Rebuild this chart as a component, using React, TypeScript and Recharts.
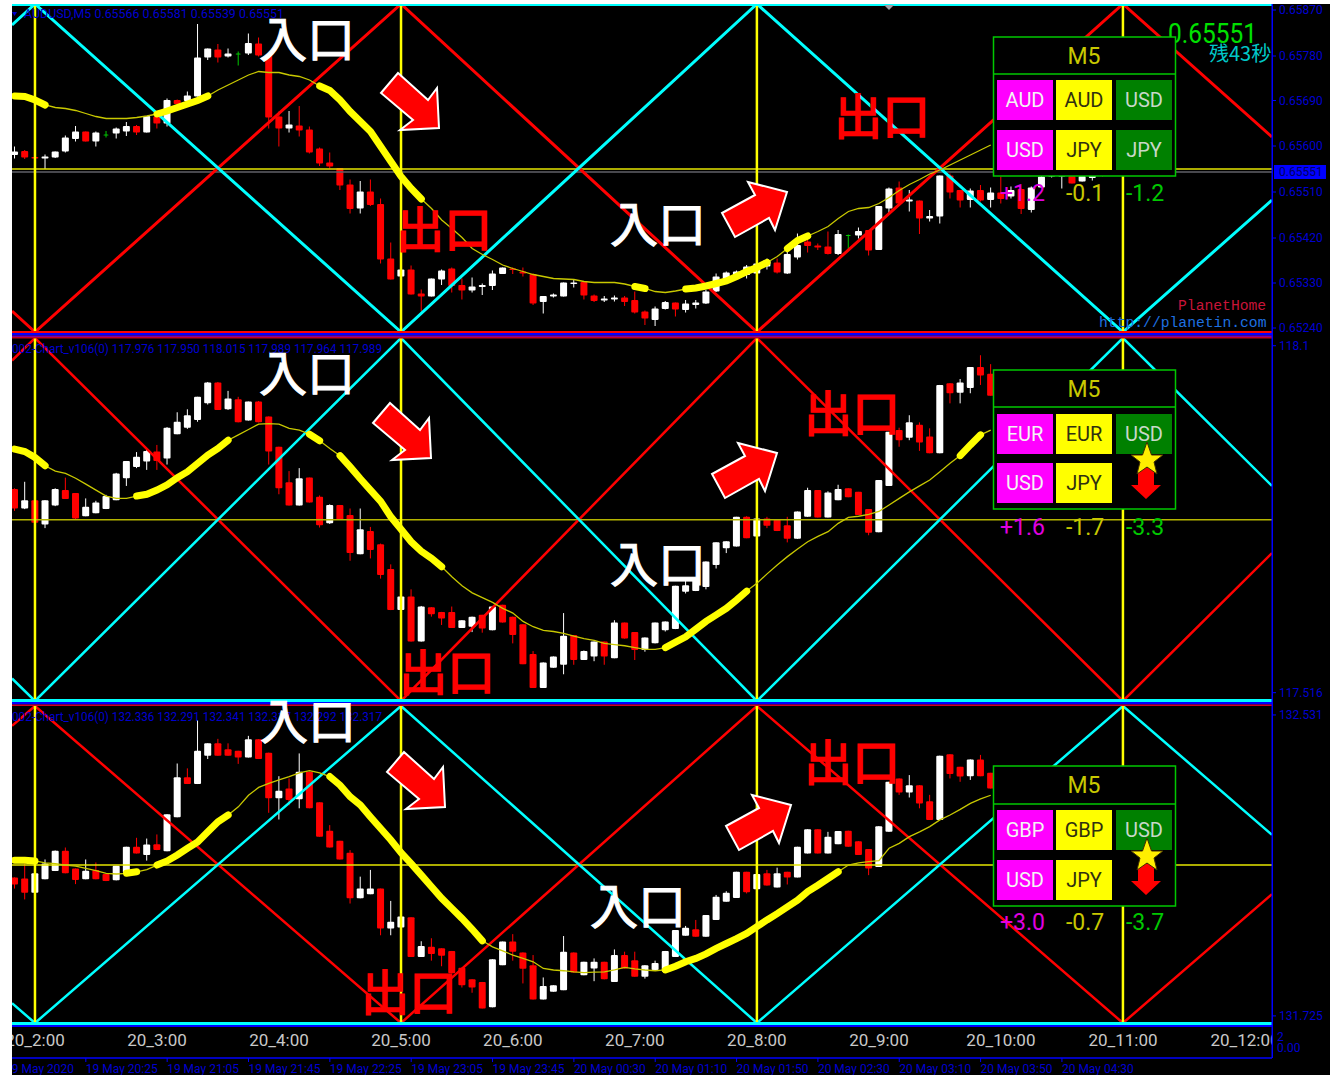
import { ComposedChart, Bar, Line, XAxis, YAxis, ReferenceLine } from "recharts";

// audusd m5, prices in points (1e-5), first bar is two bars before 20_2:00
const p1Open = [65581,65589,65577,65574,65576,65588,65613,65628,65608,65622,65624,65628,65639,65626,65658,65644,65691,65689,65698,65776,65792,65778,65784,65784,65804,65781,65658,65634,65640,65632,65594,65566,65555,65522,65474,65508,65483,65374,65338,65352,65304,65298,65332,65354,65321,65310,65317,65319,65343,65354,65348,65343,65287,65298,65298,65323,65327,65300,65290,65292,65296,65291,65268,65251,65273,65286,65271,65281,65284,65308,65332,65334,65341,65344,65358,65366,65344,65376,65408,65400,65398,65383,65421,65420,65431,65391,65474,65516,65488,65490,65454,65458,65540,65511,65491,65511,65491,65506,65498,65513,65471,65516,65538,65538,65539,65528,65535,65566];
const p1Close = [65588,65576,65574,65578,65588,65616,65628,65608,65626,65622,65634,65639,65626,65659,65644,65691,65683,65700,65776,65794,65776,65784,65784,65805,65780,65656,65634,65642,65630,65586,65564,65558,65520,65473,65508,65481,65372,65332,65352,65302,65298,65334,65350,65319,65310,65318,65321,65344,65356,65351,65344,65284,65299,65302,65326,65326,65300,65289,65294,65296,65287,65266,65254,65274,65287,65272,65284,65286,65308,65338,65346,65348,65358,65364,65371,65346,65383,65401,65399,65396,65383,65423,65421,65429,65390,65479,65514,65484,65492,65454,65459,65540,65506,65490,65510,65490,65506,65493,65511,65473,65516,65538,65558,65555,65524,65539,65545,65551];
const p1High = [65598,65591,65577,65582,65588,65620,65639,65628,65628,65629,65636,65647,65641,65659,65663,65694,65692,65708,65843,65794,65803,65794,65788,65824,65816,65781,65668,65669,65679,65638,65596,65586,65555,65532,65529,65532,65494,65406,65352,65360,65312,65334,65352,65356,65334,65336,65324,65350,65356,65356,65356,65344,65299,65304,65326,65331,65328,65302,65299,65300,65299,65308,65270,65278,65289,65286,65291,65291,65311,65344,65348,65350,65361,65368,65374,65374,65391,65424,65414,65404,65428,65431,65422,65436,65431,65479,65516,65528,65511,65490,65471,65540,65544,65511,65514,65521,65516,65538,65518,65514,65518,65540,65560,65560,65545,65548,65552,65581];
const p1Low = [65574,65573,65574,65553,65575,65586,65608,65608,65598,65616,65614,65619,65621,65626,65634,65638,65683,65688,65698,65771,65766,65776,65760,65781,65778,65634,65598,65626,65618,65584,65559,65554,65511,65464,65464,65479,65364,65332,65311,65302,65268,65298,65321,65306,65292,65306,65301,65311,65343,65343,65338,65281,65264,65296,65298,65316,65292,65287,65287,65288,65279,65264,65241,65239,65272,65258,65266,65274,65283,65307,65332,65334,65334,65342,65352,65344,65343,65372,65386,65391,65382,65381,65391,65414,65380,65391,65464,65483,65468,65423,65448,65444,65494,65476,65476,65488,65476,65484,65494,65463,65466,65516,65536,65514,65524,65528,65530,65538];
const p1Ma = [65699,65698,65691,65681,65676,65674,65670,65664,65658,65654,65654,65654,65656,65659,65663,65669,65676,65683,65690,65699,65711,65721,65731,65741,65748,65746,65746,65741,65738,65731,65719,65710,65691,65668,65648,65628,65598,65568,65538,65514,65493,65474,65451,65434,65416,65394,65382,65372,65361,65354,65348,65342,65338,65334,65333,65332,65328,65326,65326,65326,65323,65318,65314,65308,65306,65309,65313,65315,65319,65324,65329,65338,65348,65356,65366,65378,65394,65410,65419,65428,65438,65454,65468,65474,65476,65484,65496,65510,65522,65532,65543,65551,65561,65571,65581,65591,65601];
const p1ThickRuns = [[-2,1],[12,17],[28,38],[59,60],[64,72],[74,76]];
const p1TickValues = [65871,65779,65690,65599,65507,65415,65325,65235];
const p1TickLabels = ["0.65870","0.65780","0.65690","0.65600","0.65510","0.65420","0.65330","0.65240"];

// eurjpy-style middle panel, prices in 0.001
const p2Open = [117859,117826,117840,117799,117831,117857,117852,117813,117818,117825,117840,117877,117896,117905,117922,117910,117951,117962,117975,118003,118038,117993,118010,117974,118006,117981,117930,117870,117831,117878,117846,117801,117832,117815,117749,117788,117766,117724,117655,117678,117602,117660,117652,117652,117625,117627,117647,117621,117664,117644,117631,117581,117524,117558,117563,117613,117571,117577,117602,117574,117634,117618,117588,117599,117621,117623,117686,117687,117694,117731,117759,117762,117812,117779,117809,117807,117798,117775,117812,117857,117811,117840,117860,117854,117825,117786,117864,117958,117945,117967,117947,117919,118037,118021,118029,118064,118053];
const p2Close = [117826,117840,117802,117840,117859,117842,117809,117829,117836,117847,117885,117906,117913,117923,117906,117962,117972,117983,118014,118038,117992,118011,117971,118006,117971,117922,117860,117831,117877,117836,117798,117832,117807,117751,117791,117756,117714,117655,117678,117602,117661,117648,117641,117625,117638,117644,117624,117661,117634,117613,117564,117524,117567,117577,117612,117571,117586,117602,117577,117634,117607,117588,117609,117634,117636,117696,117697,117706,117737,117769,117771,117812,117776,117809,117797,117788,117775,117821,117857,117811,117853,117859,117845,117815,117785,117874,117955,117941,117971,117937,117919,118034,118020,118038,118064,118050,118016];
const p2High = [117860,117871,117861,117840,117860,117878,117852,117843,117839,117849,117886,117906,117921,117927,117933,117963,117988,117993,118014,118039,118039,118024,118014,118006,118007,117981,117930,117889,117894,117878,117848,117833,117832,117826,117826,117795,117767,117732,117678,117690,117662,117660,117652,117661,117638,117644,117647,117662,117664,117644,117631,117586,117567,117577,117650,117613,117587,117602,117602,117638,117634,117618,117609,117634,117636,117696,117706,117706,117737,117769,117771,117812,117813,117809,117812,117807,117812,117821,117861,117857,117855,117866,117860,117854,117825,117874,117955,117962,117983,117971,117961,118034,118037,118044,118064,118084,118069];
const p2Low = [117822,117825,117801,117793,117830,117842,117808,117813,117818,117825,117840,117864,117894,117891,117891,117900,117951,117960,117972,118001,117992,117992,117971,117974,117971,117900,117850,117831,117831,117836,117794,117800,117807,117738,117749,117742,117708,117655,117630,117602,117602,117644,117630,117625,117625,117618,117617,117621,117634,117599,117564,117524,117524,117558,117547,117563,117571,117569,117563,117574,117607,117571,117585,117599,117619,117623,117683,117687,117690,117725,117751,117762,117776,117737,117793,117788,117769,117775,117812,117811,117811,117840,117845,117815,117781,117786,117864,117930,117941,117923,117919,117919,118003,118003,118020,118034,118016];
const p2Ma = [117926,117922,117912,117898,117889,117885,117877,117867,117857,117847,117843,117843,117847,117850,117857,117866,117878,117888,117902,117916,117927,117941,117950,117959,117968,117969,117968,117961,117958,117951,117940,117927,117915,117896,117876,117857,117838,117812,117791,117770,117754,117742,117728,117711,117696,117684,117676,117668,117658,117650,117636,117627,117621,117619,117616,117611,117607,117604,117599,117597,117595,117592,117589,117589,117592,117601,117610,117623,117636,117647,117658,117672,117687,117700,117716,117731,117745,117758,117770,117779,117787,117801,117811,117813,117816,117821,117832,117843,117854,117864,117874,117888,117902,117915,117933,117950,117958];
const p2ThickRuns = [[-2,1],[10,19],[27,28],[30,40],[62,70],[91,93]];
const p2TickValues = [118100,117516];
const p2TickLabels = ["118.1","117.516"];

// lower panel, prices in 0.001
const p3Open = [132096,132093,132055,132091,132113,132167,132120,132091,132116,132105,132088,132108,132178,132156,132185,132166,132257,132364,132346,132422,132455,132439,132435,132417,132466,132430,132308,132334,132305,132379,132297,132221,132194,132162,132040,132051,132066,131959,131962,131989,131883,131910,131906,131899,131854,131823,131816,131748,131861,131924,131895,131861,131769,131790,131794,131895,131834,131852,131870,131816,131888,131874,131830,131848,131843,131883,131940,131957,131937,131982,132031,132041,132111,132064,132107,132069,132111,132096,132160,132225,132160,132185,132221,132193,132172,132124,132218,132361,132323,132343,132300,132250,132426,132392,132367,132412,132376];
const p3Close = [132077,132055,132107,132133,132167,132107,132089,132114,132091,132086,132127,132178,132160,132184,132169,132265,132364,132346,132435,132455,132422,132422,132417,132466,132413,132308,132328,132303,132379,132281,132205,132176,132144,132040,132066,132066,131959,131977,131991,131883,131912,131891,131886,131839,131807,131801,131745,131877,131924,131897,131851,131769,131805,131807,131897,131841,131870,131870,131823,131888,131852,131830,131861,131867,131899,131955,131961,131937,131995,132044,132055,132111,132056,132105,132074,132107,132096,132178,132225,132160,132205,132220,132178,132156,132120,132233,132352,132323,132343,132294,132250,132422,132373,132366,132412,132367,132334];
const p3High = [132096,132133,132133,132144,132168,132176,132120,132144,132136,132105,132127,132178,132202,132200,132211,132265,132401,132388,132517,132455,132467,132455,132435,132475,132466,132430,132367,132361,132428,132379,132297,132236,132194,132169,132098,132116,132066,132033,132013,131989,131925,131933,131906,131899,131854,131823,131816,131877,131924,131944,131895,131888,131828,131807,131939,131895,131870,131879,131870,131903,131897,131897,131861,131873,131899,131955,131966,131982,131995,132049,132059,132111,132111,132105,132116,132122,132111,132178,132225,132225,132218,132220,132221,132193,132172,132233,132352,132361,132370,132343,132317,132422,132426,132392,132412,132424,132376];
const p3Low = [132066,132037,132055,132091,132113,132107,132078,132091,132091,132086,132088,132108,132160,132141,132169,132166,132257,132346,132346,132413,132422,132422,132400,132417,132413,132269,132251,132289,132281,132281,132205,132176,132144,132026,132040,132051,131941,131941,131962,131883,131883,131873,131858,131839,131801,131787,131745,131748,131861,131873,131812,131769,131769,131790,131794,131841,131834,131818,131823,131816,131852,131830,131825,131848,131843,131883,131940,131937,131937,131982,132031,132041,132053,132044,132074,132069,132077,132096,132160,132160,132160,132185,132178,132156,132102,132124,132218,132317,132310,132281,132250,132250,132361,132352,132357,132367,132334];
const p3Ma = [132142,132142,132140,132135,132133,132129,132126,132120,132114,132107,132105,132107,132111,132117,132129,132140,132156,132174,132191,132218,132245,132263,132285,132316,132337,132348,132357,132366,132376,132382,132376,132366,132343,132312,132290,132258,132227,132196,132162,132133,132102,132071,132040,132013,131986,131957,131926,131910,131899,131888,131879,131870,131852,131848,131846,131843,131841,131842,131843,131848,131855,131851,131848,131846,131848,131858,131870,131879,131891,131906,131919,131932,131946,131964,131982,131999,132017,132035,132058,132075,132093,132111,132129,132135,132138,132141,132174,132187,132205,132218,132232,132250,132263,132278,132294,132306,132316];
const p3ThickRuns = [[-2,0],[9,10],[12,19],[29,44],[62,79]];
const p3TickValues = [132531,131725];
const p3TickLabels = ["132.531","131.725"];

// gann-style zigzags, corners at bar positions
const diagBars = [-2.26, 0, 36, 71, 107, 121.66];
const p1Red = [65269,65227,65883,65227,65883,65617];
const p1Cyan = [65841,65883,65227,65883,65227,65491];
const p2Red = [118075,118113,117502,118113,117502,117751];
const p2Cyan = [117540,117502,118113,117502,118113,117864];
const p3Red = [132502,132555,131706,132555,131706,132051];
const p3Cyan = [131759,131706,132555,131706,132555,132210];

const vLines = [0, 36, 71, 107];
const hourTicks = [0, 12, 24, 36, 47, 59, 71, 83, 95, 107, 119];
const hourLabels = ["20_2:00","20_3:00","20_4:00","20_5:00","20_6:00","20_7:00","20_8:00","20_9:00","20_10:00","20_11:00","20_12:00"];
const timeTicks = [5, 13, 21, 29, 37, 45, 53, 61, 69, 77, 85, 93, 101];
const timeLabels = ["19 May 20:25","19 May 21:05","19 May 21:45","19 May 22:25","19 May 23:05","19 May 23:45","20 May 00:30","20 May 01:10","20 May 01:50","20 May 02:30","20 May 03:10","20 May 03:50","20 May 04:30"];

const BLUE = "#0000d0";
const X_DOMAIN: [number, number] = [-2.26, 121.66];

function makeRows(open: number[], high: number[], low: number[], close: number[], ma: number[], runs: number[][]) {
  return open.map((o, k) => {
    const bar = k - 2;
    const inRun = runs.some(([a, b]) => bar >= a && bar <= b);
    return {
      bar,
      open: o,
      high: high[k],
      low: low[k],
      close: close[k],
      range: [low[k], high[k]],
      ma: ma[k] ?? null,
      thick: inRun ? ma[k] : null,
    };
  });
}

function diagRows(values: number[]) {
  return diagBars.map((bar, k) => ({ bar, price: values[k] }));
}

function Candle(props: any) {
  const { x, y, width, height, payload } = props;
  const top = Math.min(y, y + height);
  const h = Math.abs(height);
  const perUnit = h / (payload.high - payload.low);
  const toY = (v: number) => top + (payload.high - v) * perUnit;
  const color = payload.close === payload.open ? "#00c800" : payload.close > payload.open ? "#ffffff" : "#ff0000";
  const cx = x + width / 2;
  const yo = toY(payload.open);
  const yc = toY(payload.close);
  const bodyTop = Math.min(yo, yc);
  const bodyH = Math.max(Math.abs(yo - yc), 1);
  const w = payload.close === payload.open ? 5 : 7;
  return (
    <g>
      <rect x={cx - 0.5} y={top} width={1} height={h} fill={color} />
      <rect x={cx - w / 2} y={bodyTop} width={w} height={bodyH} rx={1} fill={color} />
    </g>
  );
}

function TimeTick(props: any) {
  const { x, y, payload } = props;
  const k = timeTicks.indexOf(payload.value);
  return (
    <text x={x} y={y + 9} fontSize={12} fill={BLUE} fontFamily="Roboto">
      {timeLabels[k]}
    </text>
  );
}

interface PanelProps {
  top: number;
  height: number;
  rows: any[];
  domain: [number, number];
  ticks: number[];
  labels: string[];
  red: number[];
  cyan: number[];
  levels: { value: number; color: string }[];
  diagWidth: number;
  bottomAxes?: boolean;
}

function PricePanel({ top, height, rows, domain, ticks, labels, red, cyan, levels, diagWidth, bottomAxes }: PanelProps) {
  return (
    <div style={{ position: "absolute", left: 12, top }}>
      <ComposedChart width={1318} height={height} data={rows} margin={{ top: 0, right: 0, bottom: 0, left: 0 }}>
        {bottomAxes ? (
          <XAxis
            dataKey="bar"
            type="number"
            domain={X_DOMAIN}
            allowDataOverflow
            ticks={hourTicks}
            interval={0}
            height={35}
            tickFormatter={(v) => hourLabels[hourTicks.indexOf(v)]}
            axisLine={false}
            tickLine={false}
            tickSize={0}
            tickMargin={11}
            tick={{ fill: "#c8c8c8", fontSize: 17, fontFamily: "Roboto" }}
          />
        ) : (
          <XAxis dataKey="bar" type="number" domain={X_DOMAIN} allowDataOverflow hide />
        )}
        {bottomAxes && (
          <XAxis
            xAxisId="time"
            dataKey="bar"
            type="number"
            domain={X_DOMAIN}
            allowDataOverflow
            ticks={timeTicks}
            interval={0}
            height={17}
            axisLine={{ stroke: "#0000ff", strokeWidth: 1.5 }}
            tickLine={{ stroke: "#0000ff" }}
            tickSize={4}
            tick={<TimeTick />}
          />
        )}
        <YAxis
          orientation="right"
          type="number"
          width={58}
          domain={domain}
          allowDataOverflow
          ticks={ticks}
          interval={0}
          tickFormatter={(v) => labels[ticks.indexOf(v)]}
          axisLine={false}
          tickLine={{ stroke: "#0000ff" }}
          tickSize={4}
          tickMargin={3}
          tick={{ fill: BLUE, fontSize: 12, fontFamily: "Roboto", textAnchor: "start" }}
        />
        {levels.map((l) => (
          <ReferenceLine key={l.value} y={l.value} stroke={l.color} strokeWidth={1.5} />
        ))}
        <Line data={diagRows(red)} dataKey="price" stroke="#ff0000" strokeWidth={diagWidth} dot={false} activeDot={false} isAnimationActive={false} />
        <Line data={diagRows(cyan)} dataKey="price" stroke="#00ffff" strokeWidth={diagWidth} dot={false} activeDot={false} isAnimationActive={false} />
        {vLines.map((b) => (
          <ReferenceLine key={b} x={b} stroke="#ffff00" strokeWidth={2.5} />
        ))}
        <Bar dataKey="range" barSize={7} shape={<Candle />} isAnimationActive={false} />
        <Line dataKey="ma" stroke="#c8c800" strokeWidth={1.3} dot={false} activeDot={false} isAnimationActive={false} />
        <Line dataKey="thick" stroke="#ffff00" strokeWidth={7} strokeLinecap="round" dot={false} activeDot={false} isAnimationActive={false} />
      </ComposedChart>
    </div>
  );
}

const downArrow = "398,73 428,100 437,88 439,128 400,130 413,120 381,93";
const upArrow = "748,182 787,192 775,230 769,218 735,237 722,213 755,195";

const arrows = [
  { pts: downArrow, dx: 0, dy: 0 },
  { pts: upArrow, dx: 0, dy: 0 },
  { pts: downArrow, dx: -8, dy: 330 },
  { pts: upArrow, dx: -10, dy: 261 },
  { pts: downArrow, dx: 6, dy: 679 },
  { pts: upArrow, dx: 4, dy: 613 },
];

const words = [
  { text: "入口", x: 259, y: 57, color: "#ffffff" },
  { text: "入口", x: 610, y: 242, color: "#ffffff" },
  { text: "入口", x: 259, y: 391, color: "#ffffff" },
  { text: "入口", x: 610, y: 582, color: "#ffffff" },
  { text: "入口", x: 260, y: 739, color: "#ffffff" },
  { text: "入口", x: 590, y: 924, color: "#ffffff" },
  { text: "出口", x: 396, y: 247, color: "#ff0000" },
  { text: "出口", x: 834, y: 134, color: "#ff0000" },
  { text: "出口", x: 399, y: 690, color: "#ff0000" },
  { text: "出口", x: 804, y: 431, color: "#ff0000" },
  { text: "出口", x: 361, y: 1010, color: "#ff0000" },
  { text: "出口", x: 804, y: 780, color: "#ff0000" },
];

const frameStrips = [
  { y: 4, h: 2, c: "#00ffff" },
  { y: 331, h: 2, c: "#ff0000" },
  { y: 333, h: 2.5, c: "#0000ff" },
  { y: 335.5, h: 1.5, c: "#8000a0" },
  { y: 337, h: 1.5, c: "#c00020" },
  { y: 699, h: 3, c: "#00ffff" },
  { y: 702, h: 2.5, c: "#0000ff" },
  { y: 704.5, h: 1.5, c: "#d00020" },
  { y: 1022, h: 3, c: "#00ffff" },
  { y: 1025, h: 2, c: "#0000ff" },
];

function InfoBox({ top, line, row1, row2, cells, values, valueGap, badge }: any) {
  const cols = [997, 1056, 1116];
  const fills = ["#ff00ff", "#ffff00", "#008000"];
  const inks = ["#f4f4f4", "#303010", "#c8d8c8"];
  const bottom = row2 + 46;
  return (
    <g fontFamily="Roboto">
      <rect x={993.5} y={top} width={182} height={bottom - top} fill="#000" stroke="#00c800" strokeWidth={1.5} />
      <line x1={993.5} x2={1175.5} y1={line} y2={line} stroke="#00c800" strokeWidth={1.5} />
      <text x={1084} y={(top + line) / 2 + 8} fontSize={23} fill="#c8c800" textAnchor="middle">M5</text>
      {cells.map((row: string[], r: number) =>
        row.map((label, c) => {
          const y = r === 0 ? row1 : row2;
          return (
            <g key={r + "-" + c}>
              <rect x={cols[c]} y={y} width={56} height={40} fill={fills[c]} />
              <text x={cols[c] + 28} y={y + 27} fontSize={20} fill={inks[c]} textAnchor="middle">{label}</text>
            </g>
          );
        })
      )}
      {badge && (
        <g>
          <polygon points={`1138,${row1 + 54} 1154,${row1 + 54} 1154,${row1 + 71} 1161,${row1 + 71} 1146,${row1 + 85} 1131,${row1 + 71} 1138,${row1 + 71}`} fill="#ff0000" />
          <polygon
            points={`1147,${row1 + 28} 1151.5,${row1 + 41} 1163,${row1 + 41} 1154,${row1 + 48} 1157,${row1 + 60} 1147,${row1 + 53} 1137,${row1 + 60} 1140,${row1 + 48} 1131,${row1 + 41} 1142.5,${row1 + 41}`}
            fill="#ffee00"
            stroke="#403000"
            strokeWidth={1}
          />
        </g>
      )}
      <text x={1000} y={bottom + valueGap} fontSize={23} fill="#e000e0">{values[0]}</text>
      <text x={1066} y={bottom + valueGap} fontSize={23} fill="#c8c800">{values[1]}</text>
      <text x={1126} y={bottom + valueGap} fontSize={23} fill="#00c800">{values[2]}</text>
    </g>
  );
}

function Overlay() {
  return (
    <svg width={1330} height={1075} style={{ position: "absolute", left: 0, top: 0 }}>
      {frameStrips.map((s) => (
        <rect key={s.y} x={12} y={s.y} width={1260} height={s.h} fill={s.c} />
      ))}
      <rect x={1273} y={1028} width={57} height={29} fill="#000" />
      <rect x={1271.5} y={4} width={1.5} height={1054} fill="#0000ff" />
      <polygon points="884,5 894,5 889,10" fill="#a0a0a8" />
      <polygon points="12,12 17,12 14.5,16" fill={BLUE} />

      <g fontFamily="Roboto" fontSize={12} fill={BLUE}>
        <text x={24} y={18} textLength={260} lengthAdjust="spacingAndGlyphs">AUDUSD,M5  0.65566 0.65581 0.65539 0.65551</text>
        <text x={12} y={353} textLength={370} lengthAdjust="spacingAndGlyphs">002-Chart_v106(0) 117.976 117.950 118.015 117.989 117.964 117.989</text>
        <text x={12} y={721} textLength={370} lengthAdjust="spacingAndGlyphs">002-Chart_v106(0) 132.336 132.291 132.341 132.317 132.292 132.317</text>
        <text x={5} y={1073}>19 May 2020</text>
        <text x={1277} y={1041}>2</text>
        <text x={1277} y={1052}>0.00</text>
      </g>

      <rect x={1274} y={165} width={52} height={14} fill="#0000ff" />
      <text x={1279} y={176} fontFamily="Roboto" fontSize={12} fill="#000060">0.65551</text>

      <text x={1168} y={43} fontFamily="Roboto" fontSize={27} fill="#00e000" textLength={89} lengthAdjust="spacingAndGlyphs">0.65551</text>
      <text x={1209} y={61} fontFamily="Noto Sans CJK JP" fontSize={20} fill="#00c8c8">残43秒</text>
      <text x={1178} y={310} fontFamily="Liberation Mono" fontSize={14.7} fill="#c81438">PlanetHome</text>
      <text x={1099} y={327} fontFamily="Liberation Mono" fontSize={14.7} fill="#1e70e0">http://planetin.com</text>

      {arrows.map((a, k) => (
        <polygon key={k} points={a.pts} transform={`translate(${a.dx} ${a.dy})`} fill="#ff0000" stroke="#ffffff" strokeWidth={2} />
      ))}
      {words.map((w, k) => (
        <text
          key={k}
          x={w.x}
          y={w.y}
          fontSize={48}
          fontFamily="Noto Sans CJK JP"
          fill={w.color}
          stroke={w.color}
          strokeWidth={w.color === "#ff0000" ? 1.6 : 1}
        >
          {w.text}
        </text>
      ))}

      <InfoBox top={37} line={74} row1={80} row2={130} valueGap={25} cells={[["AUD", "AUD", "USD"], ["USD", "JPY", "JPY"]]} values={["+1.2", "-0.1", "-1.2"]} />
      <InfoBox top={370} line={407} row1={414} row2={463} valueGap={26} cells={[["EUR", "EUR", "USD"], ["USD", "JPY"]]} values={["+1.6", "-1.7", "-3.3"]} badge />
      <InfoBox top={766} line={804} row1={810} row2={860} valueGap={24} cells={[["GBP", "GBP", "USD"], ["USD", "JPY"]]} values={["+3.0", "-0.7", "-3.7"]} badge />

      <rect x={0} y={0} width={12} height={1075} fill="#fff" />
      <rect x={0} y={0} width={1330} height={4} fill="#fff" />
    </svg>
  );
}

const p1Rows = makeRows(p1Open, p1High, p1Low, p1Close, p1Ma, p1ThickRuns);
const p2Rows = makeRows(p2Open, p2High, p2Low, p2Close, p2Ma, p2ThickRuns);
const p3Rows = makeRows(p3Open, p3High, p3Low, p3Close, p3Ma, p3ThickRuns);

export default function App() {
  return (
    <div style={{ position: "absolute", left: 0, top: 0, width: 1330, height: 1075, background: "#000", overflow: "hidden" }}>
      <PricePanel
        top={4}
        height={328}
        rows={p1Rows}
        domain={[65227, 65883]}
        ticks={p1TickValues}
        labels={p1TickLabels}
        red={p1Red}
        cyan={p1Cyan}
        levels={[{ value: 65547, color: "#606068" }, { value: 65553, color: "#e6e600" }]}
        diagWidth={3}
      />
      <PricePanel
        top={338}
        height={363}
        rows={p2Rows}
        domain={[117502, 118113]}
        ticks={p2TickValues}
        labels={p2TickLabels}
        red={p2Red}
        cyan={p2Cyan}
        levels={[{ value: 117807, color: "#b4b400" }]}
        diagWidth={2.5}
      />
      <PricePanel
        top={706}
        height={369}
        rows={p3Rows}
        domain={[131706, 132555]}
        ticks={p3TickValues}
        labels={p3TickLabels}
        red={p3Red}
        cyan={p3Cyan}
        levels={[{ value: 132129, color: "#e6e600" }]}
        diagWidth={2.5}
        bottomAxes
      />
      <Overlay />
    </div>
  );
}
